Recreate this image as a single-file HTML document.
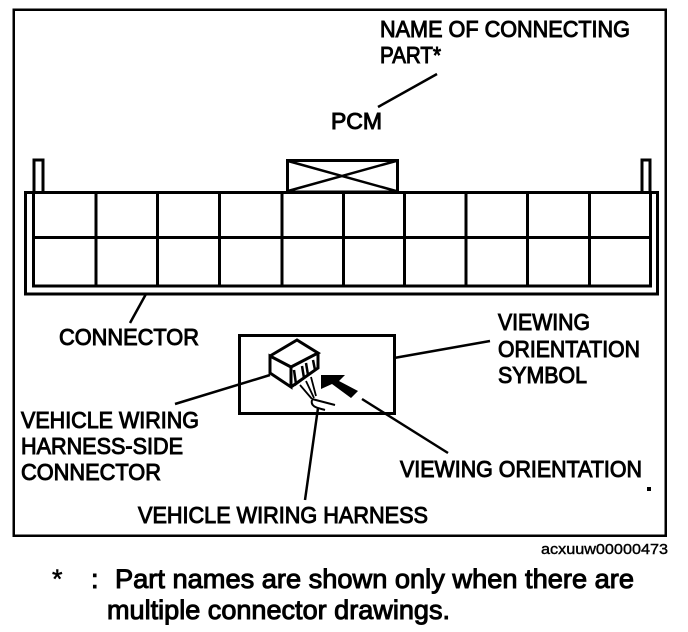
<!DOCTYPE html>
<html><head><meta charset="utf-8"><style>
html,body{margin:0;padding:0;background:#fff;width:688px;height:632px;overflow:hidden}
svg{display:block}
text{font-family:"Liberation Sans",sans-serif;fill:#000;stroke:#000;stroke-width:1px}
.l{font-size:23.500px}
.n{font-size:27px}
</style></head><body>
<svg width="688" height="632" viewBox="0 0 688 632" xmlns="http://www.w3.org/2000/svg">
<g fill="none" stroke="#000" stroke-width="3" shape-rendering="crispEdges">
<rect x="13.500" y="9.500" width="652" height="526" stroke-width="2.500"/>
<rect x="25.500" y="192.500" width="632" height="101.500"/>
<rect x="33.500" y="192.500" width="617" height="93.500"/>
<path d="M33 237.500H651M96 192V286M157.500 192V286M219.500 192V286M282 192V286M343.500 192V286M404.500 192V286M466 192V286M527.500 192V286M589.500 192V286"/>
<path d="M34 192V160H43V192M642 192V160H650V192"/>
<rect x="287.500" y="160.500" width="110" height="31.500"/>
<rect x="239.500" y="335.500" width="155" height="78"/>
</g>
<g fill="none" stroke="#000" stroke-width="2.500">
<path d="M288 161L396 191M288 191L396 161"/>
<path d="M378 107L437 74"/>
<path d="M146 294L130 323"/>
<path d="M394 358L490 341"/>
<path d="M270 375L175 404"/>
<path d="M362 399L448 453"/>
<path d="M318 408L305 500"/>
<path d="M270 356L297 340L318 353L291 367L270 356L270 373L291 387L291 367M318 353V368L291 387" stroke-width="3"/>
<path d="M294 370L296 384L304 378L302 366M306 363L308 375L315 370L313 360" stroke-width="2.500"/>
<path d="M300 385L312 399M306 381L314 398M311 377L316 396" stroke-width="1.800"/>
<path d="M312 399L335 405M312 400C310 407 318 408 325 410" stroke-width="2"/>
</g>
<polygon points="321,375 345,375 339,381 358,391 351,398 332,384 321,389" fill="#000"/>
<text class="l" x="380" y="37" textLength="250" lengthAdjust="spacingAndGlyphs">NAME OF CONNECTING</text>
<text class="l" x="380" y="63" textLength="61" lengthAdjust="spacingAndGlyphs">PART*</text>
<text class="l" x="331" y="129" textLength="51" lengthAdjust="spacingAndGlyphs">PCM</text>
<text class="l" x="59" y="345" textLength="140" lengthAdjust="spacingAndGlyphs">CONNECTOR</text>
<text class="l" x="498" y="330" textLength="92" lengthAdjust="spacingAndGlyphs">VIEWING</text>
<text class="l" x="498" y="357" textLength="142" lengthAdjust="spacingAndGlyphs">ORIENTATION</text>
<text class="l" x="498" y="383" textLength="89" lengthAdjust="spacingAndGlyphs">SYMBOL</text>
<text class="l" x="21" y="428" textLength="178" lengthAdjust="spacingAndGlyphs">VEHICLE WIRING</text>
<text class="l" x="21" y="454" textLength="162" lengthAdjust="spacingAndGlyphs">HARNESS-SIDE</text>
<text class="l" x="21" y="480" textLength="140" lengthAdjust="spacingAndGlyphs">CONNECTOR</text>
<text class="l" x="400" y="477" textLength="242" lengthAdjust="spacingAndGlyphs">VIEWING ORIENTATION</text>
<text class="l" x="138" y="523" textLength="290" lengthAdjust="spacingAndGlyphs">VEHICLE WIRING HARNESS</text>
<text x="541" y="554" font-size="15" textLength="127" lengthAdjust="spacingAndGlyphs" style="stroke-width:.4px">acxuuw00000473</text>
<text class="n" x="52" y="588" style="stroke-width:.5px">*</text>
<text class="n" x="91" y="588">:</text>
<text class="n" x="115" y="588" textLength="519" lengthAdjust="spacingAndGlyphs">Part names are shown only when there are</text>
<text class="n" x="107" y="619" textLength="343" lengthAdjust="spacingAndGlyphs">multiple connector drawings.</text>
<rect x="647" y="487" width="4" height="4" fill="#000"/>
</svg>
</body></html>
